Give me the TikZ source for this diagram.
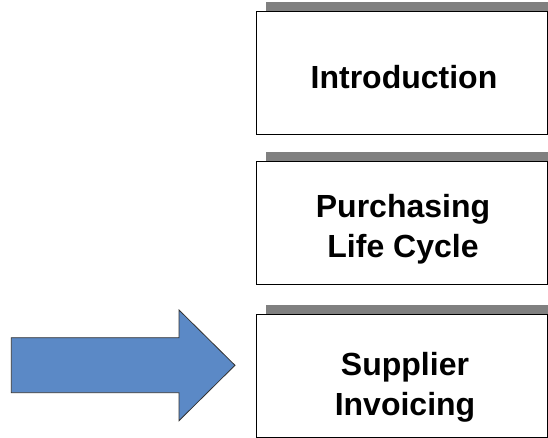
\documentclass[tikz,border=0pt]{standalone}
\usepackage{fontspec}
\setmainfont{Liberation Sans}
\definecolor{arrowblue}{RGB}{91,137,198}
\definecolor{shadowgray}{RGB}{128,128,128}
\begin{document}
\begin{tikzpicture}[x=1pt,y=1pt,
  box/.style={draw=black,line width=1pt,fill=white,minimum width=291pt,minimum height=123pt,inner sep=0pt,outer sep=0pt},
  shadowbar/.style={fill=shadowgray,draw=none,minimum width=291pt,minimum height=123pt,inner sep=0pt},
  label/.style={font=\bfseries\fontsize{32}{40}\selectfont,align=center,inner sep=0pt}]
\useasboundingbox (0,0) rectangle (548,438);
\clip (0,0) rectangle (548,438);
% shadows
\node[shadowbar] (s1) at (411.5,374) {};
\node[shadowbar] (s2) at (411.5,224.5) {};
\node[shadowbar] (s3) at (411.5,71.5) {};
% boxes
\node[box] (b1) at (401.5,364.5) {};
\node[box] (b2) at (401.5,215) {};
\node[box] (b3) at (401.5,62) {};
% labels
\node[label] (t1) at (404,361.2) {Introduction};
\node[label] (t2) at (403,209.2) {Purchasing\\Life Cycle};
\node[label] (t3) at (405,51.2) {Supplier\\Invoicing};
% arrow
\draw[fill=arrowblue,draw=black!80,line width=0.8pt,line join=miter]
  (11.3,100.3) -- (179,100.3) -- (179,128) -- (235,72.7) -- (179,17.3) -- (179,45.3) -- (11.3,45.3) -- cycle;
\end{tikzpicture}
\end{document}
